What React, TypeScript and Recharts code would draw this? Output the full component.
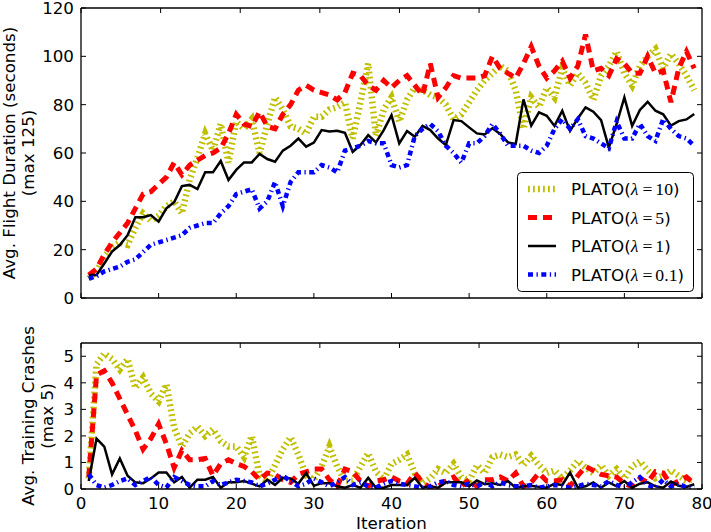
import React from "react";
import { Line, LineChart, XAxis, YAxis } from "recharts";

// ---- data ----------------------------------------------------------------
const ITERATIONS = [
  1, 2, 3, 4, 5, 6, 7, 8, 9, 10, 11, 12, 13, 14, 15, 16, 17, 18, 19, 20,
  21, 22, 23, 24, 25, 26, 27, 28, 29, 30, 31, 32, 33, 34, 35, 36, 37, 38, 39, 40,
  41, 42, 43, 44, 45, 46, 47, 48, 49, 50, 51, 52, 53, 54, 55, 56, 57, 58, 59, 60,
  61, 62, 63, 64, 65, 66, 67, 68, 69, 70, 71, 72, 73, 74, 75, 76, 77, 78, 79,
];

// avg. flight duration (seconds)
const FLIGHT_L10 = [
  8, 11, 17, 21, 23, 22, 29, 35, 32, 34, 38, 40, 35, 49, 58, 68, 61, 72, 56, 73,
  70, 74, 60, 72, 83, 78, 71, 70, 68, 75, 75, 78, 79, 81, 66, 81, 97, 67, 78, 83,
  73, 82, 87, 86, 84, 83, 80, 74, 76, 81, 86, 90, 93, 96, 94, 86, 70, 83, 79, 87,
  83, 95, 88, 93, 89, 82, 92, 96, 102, 93, 88, 96, 100, 103, 95, 101, 97, 92, 86,
];
const FLIGHT_L5 = [
  9.5, 12, 18, 23, 27, 31, 37, 43, 44, 47, 50, 56, 51, 55, 57, 59, 60, 62, 68, 76,
  72, 71, 77, 71, 70, 76, 80, 86, 88, 86, 85, 84, 82, 85, 93, 92, 88, 86, 90, 87,
  90, 92, 88, 84, 97, 83, 87, 92, 91, 91, 91, 92, 100, 95, 93, 91, 97, 104, 96, 91,
  94, 98, 91, 96, 109, 94, 95, 92, 99, 97, 93, 93, 100, 93, 94, 81, 95, 102, 95,
];
const FLIGHT_L1 = [
  9.5, 9.5, 14.3, 19.2, 21.9, 26, 33.4, 33.4, 34.3, 31.6, 37.1, 39.6, 46.3, 46.8,
  45.1, 52, 52, 56.7, 48.8, 53, 56.1, 56.1, 59.6, 57.5, 56.4, 61, 63, 66, 62.6,
  64.3, 69.5, 68.9, 69.2, 68.4, 60.5, 63.3, 67.4, 64.4, 69.5, 75.7, 64, 69.1, 66.7,
  71.2, 69.5, 66, 63.3, 73.6, 73.2, 70.6, 68.1, 67.7, 70.2, 67.9, 64.4, 63.7, 82.2,
  71.3, 76.8, 75.4, 71.2, 77.5, 69.1, 74.3, 78.9, 77.1, 73.6, 62.2, 72, 83, 71.2,
  77.8, 81.2, 77.5, 76, 71.3, 73.2, 73.9, 76.1,
];
const FLIGHT_L01 = [
  8, 9, 11, 12, 13, 15, 16, 19, 22, 23, 24, 25, 26, 29, 30, 31, 31, 35, 38, 43,
  44, 45, 37, 40, 48, 38, 48, 52, 52, 52, 55, 54, 52, 61, 62, 63, 65, 64, 64, 55,
  54, 55, 67, 70, 72, 69, 63, 60, 56, 64, 64, 67, 72, 68, 63, 63, 63, 61, 60, 63,
  70, 74, 70, 74, 67, 66, 64, 62, 73, 66, 66, 72, 67, 65, 74, 70, 67, 66, 63,
];

// avg. training crashes
const CRASH_L10 = [
  0.4, 4.7, 5.1, 4.9, 4.5, 4.9, 3.8, 4.2, 3.6, 3.3, 3.95, 2.3, 1.6, 2.1, 2.35, 2.0,
  2.25, 1.8, 1.6, 1.6, 1.2, 2.0, 0.5, 0.3, 0.9, 1.5, 1.95, 1.3, 0.5, 0.35, 0.85,
  1.6, 0.85, 0.3, 0.3, 0.85, 1.35, 0.65, 0.35, 0.95, 1.1, 1.3, 0.6, 0.2, 0.4, 0.75,
  0.6, 0.95, 0.45, 0.3, 0.9, 0.6, 1.2, 1.3, 1.2, 1.3, 0.9, 1.25, 0.9, 0.6, 0.7, 0.4,
  0.7, 1.05, 0.8, 0.6, 0.9, 0.5, 0.75, 0.4, 0.85, 1.05, 0.7, 0.4, 0.5, 0.7, 0.5,
  0.3, 0.4,
];
const CRASH_L5 = [
  0.45, 4.3, 4.45, 4.0, 3.4, 2.8, 2.2, 1.5, 1.9, 2.45, 1.7, 0.8, 1.45, 1.1, 1.1,
  1.15, 0.5, 0.95, 1.1, 0.95, 0.85, 0.65, 0.35, 0.6, 0.55, 0.35, 0.25, 0.55, 0.65,
  0.75, 0.75, 0.35, 0.1, 0.75, 0.65, 0.3, 0.1, 0.3, 0.35, 0.45, 0.3, 0.2, 0.6, 0.25,
  0.05, 0.1, 0.3, 0.45, 0.1, 0.35, 0.1, 0.35, 0.35, 0.45, 0.3, 0.6, 0.1, 0.25, 0.6,
  0.3, 0.3, 0.35, 0.1, 0.5, 0.85, 0.7, 0.55, 0.5, 0.45, 0.2, 0.1, 0.4, 0.25, 0.65,
  0.6, 0.15, 0.3, 0.45, 0.2,
];
const CRASH_L1 = [
  0.3, 1.9, 1.6, 0.55, 1.15, 0.5, 0.25, 0.22, 0.4, 0.62, 0.62, 0.25, 0.45, 0.05,
  0.35, 0.35, 0.45, 0.05, 0.25, 0.25, 0.3, 0.2, 0.1, 0.35, 0.15, 0.42, 0.4, 0.2,
  0.6, 0.12, 0.22, 0.22, 0.1, 0.05, 0.15, 0.05, 0.42, 0.05, 0.05, 0.15, 0.15, 0.15,
  0.42, 0.05, 0.1, 0.05, 0.25, 0.25, 0.25, 0.1, 0.32, 0.18, 0.22, 0.15, 0.3, 0.05,
  0.1, 0.12, 0.08, 0.05, 0.2, 0.15, 0.62, 0.05, 0.1, 0.25, 0.05, 0.25, 0.1, 0.3,
  0.05, 0.2, 0.25, 0.1, 0.05, 0.28, 0.12, 0.08, 0.18,
];
const CRASH_L01 = [
  0.55, 0.15, 0.05, 0.15, 0.3, 0.4, 0.15, 0.3, 0.45, 0.15, 0.05, 0.45, 0.3, 0.15,
  0.1, 0.1, 0.3, 0.15, 0.25, 0.35, 0.3, 0.25, 0.1, 0.2, 0.35, 0.5, 0.3, 0.1, 0.2,
  0.4, 0.25, 0.1, 0.25, 0.45, 0.15, 0.25, 0.1, 0.05, 0.2, 0.3, 0.2, 0.15, 0.1, 0.05,
  0.1, 0.25, 0.3, 0.15, 0.1, 0.2, 0.1, 0.25, 0.1, 0.25, 0.15, 0.1, 0.1, 0.15, 0.05,
  0.1, 0.15, 0.1, 0.05, 0.1, 0.2, 0.15, 0.1, 0.3, 0.15, 0.05, 0.25, 0.45, 0.15,
  0.05, 0.35, 0.1, 0.2, 0.05, 0.1,
];

const X_TICKS = [0, 10, 20, 30, 40, 50, 60, 70, 80];
const FLIGHT_TICKS = [0, 20, 40, 60, 80, 100, 120];
const CRASH_TICKS = [0, 1, 2, 3, 4, 5];
const LEGEND_VALUES = ["10", "5", "1", "0.1"];

const flightRows = ITERATIONS.map((it, i) => ({
  it,
  l10: FLIGHT_L10[i],
  l5: FLIGHT_L5[i],
  l1: FLIGHT_L1[i],
  l01: FLIGHT_L01[i],
}));
const crashRows = ITERATIONS.map((it, i) => ({
  it,
  l10: CRASH_L10[i],
  l5: CRASH_L5[i],
  l1: CRASH_L1[i],
  l01: CRASH_L01[i],
}));

// ---- styles --------------------------------------------------------------
const FONT = "DejaVu Sans, Bitstream Vera Sans, sans-serif";
const MATH = "Liberation Serif, DejaVu Serif, serif";
const FS = 16.7;
const SERIES = [
  { key: "l10", stroke: "#bfbf00", width: 6.5, dash: "1.8 3.2" },
  { key: "l5", stroke: "#ff0000", width: 5, dash: "9 6" },
  { key: "l1", stroke: "#000000", width: 2.5, dash: undefined },
  { key: "l01", stroke: "#0000ff", width: 4.5, dash: "5 3.5 1.3 3.5" },
];
const tickStyle = { fill: "#000", fontSize: FS, fontFamily: FONT };
const axisLine = { stroke: "#000", strokeWidth: 1.3 };
const tickLine = { stroke: "#000", strokeWidth: 1 };
const blank = () => "";

// shared props for the four frame axes of a panel (ticks point inward)
const frame = {
  type: "number" as const,
  allowDataOverflow: true,
  interval: 0 as const,
  tickSize: -5,
  axisLine,
  tickLine,
};

function renderSeries() {
  return SERIES.map((s) => (
    <Line
      key={s.key}
      xAxisId="b"
      yAxisId="l"
      dataKey={s.key}
      type="linear"
      stroke={s.stroke}
      strokeWidth={s.width}
      strokeDasharray={s.dash}
      strokeLinecap="butt"
      dot={false}
      activeDot={false}
      isAnimationActive={false}
    />
  ));
}

function yLabel(lines: string[], shift: number) {
  return (props: any) => {
    const vb = props.viewBox || {};
    const cy = vb.y + vb.height / 2;
    return (
      <g fontFamily={FONT} fontSize={FS} fill="#000">
        {lines.map((t, i) => {
          const x = shift + i * 19;
          return (
            <text
              key={t}
              x={x}
              y={cy}
              textAnchor="middle"
              transform={`rotate(-90 ${x} ${cy})`}
            >
              {t}
            </text>
          );
        })}
      </g>
    );
  };
}

export default function App() {
  return (
    <div style={{ position: "absolute", left: 0, top: 0, width: 711, height: 532, background: "#fff" }}>
      {/* top panel: flight duration (plot box 81..702 x 8..298) */}
      <div style={{ position: "absolute", left: 0, top: 0 }}>
        <LineChart width={711} height={320} data={flightRows} margin={{ top: 4, right: 0, bottom: 20, left: 0 }}>
          <XAxis {...frame} xAxisId="b" dataKey="it" domain={[0, 80]} ticks={X_TICKS} height={2} tickFormatter={blank} />
          <XAxis {...frame} xAxisId="t" orientation="top" domain={[0, 80]} ticks={X_TICKS} height={4} tickFormatter={blank} />
          <YAxis
            {...frame}
            yAxisId="l"
            domain={[0, 120]}
            ticks={FLIGHT_TICKS}
            width={81}
            tickMargin={12}
            tick={tickStyle}
            label={{ content: yLabel(["Avg. Flight Duration (seconds)", "(max 125)"], 15) }}
          />
          <YAxis {...frame} yAxisId="r" orientation="right" domain={[0, 120]} ticks={FLIGHT_TICKS} width={9} tickFormatter={blank} />
          {renderSeries()}
        </LineChart>
      </div>

      {/* legend */}
      <svg width={711} height={532} style={{ position: "absolute", left: 0, top: 0, pointerEvents: "none" }}>
        <rect x={517.5} y={172.5} width={176} height={119} rx={4} fill="#fff" stroke="#000" strokeWidth={1} />
        {SERIES.map((s, i) => {
          const cy = 189 + i * 28.5;
          return (
            <g key={s.key}>
              <line x1={528} x2={556} y1={cy} y2={cy} stroke={s.stroke} strokeWidth={s.width} strokeDasharray={s.dash} />
              <text x={571} y={cy + 6} fontFamily={FONT} fontSize={FS} fill="#000">
                PLATO(
                <tspan fontFamily={MATH} fontStyle="italic" fontSize={FS + 1}>
                  λ
                </tspan>
                <tspan fontFamily={MATH} fontSize={FS + 1} dx={4}>
                  =
                </tspan>
                <tspan fontFamily={MATH} fontSize={FS + 1} dx={3}>
                  {LEGEND_VALUES[i]}
                </tspan>
                )
              </text>
            </g>
          );
        })}
      </svg>

      {/* bottom panel: training crashes (plot box 81..702 x 343..489) */}
      <div style={{ position: "absolute", left: 0, top: 300 }}>
        <LineChart width={711} height={232} data={crashRows} margin={{ top: 35, right: 0, bottom: 0, left: 0 }}>
          <XAxis
            {...frame}
            xAxisId="b"
            dataKey="it"
            domain={[0, 80]}
            ticks={X_TICKS}
            height={43}
            tickMargin={13}
            tick={tickStyle}
            label={{
              content: (props: any) => {
                const vb = props.viewBox || {};
                return (
                  <text x={vb.x + vb.width / 2} y={229} textAnchor="middle" fontFamily={FONT} fontSize={FS} fill="#000">
                    Iteration
                  </text>
                );
              },
            }}
          />
          <XAxis {...frame} xAxisId="t" orientation="top" domain={[0, 80]} ticks={X_TICKS} height={8} tickFormatter={blank} />
          <YAxis
            {...frame}
            yAxisId="l"
            domain={[0, 5.5]}
            ticks={CRASH_TICKS}
            width={81}
            tickMargin={12}
            tick={tickStyle}
            label={{ content: yLabel(["Avg. Training Crashes", "(max 5)"], 34) }}
          />
          <YAxis {...frame} yAxisId="r" orientation="right" domain={[0, 5.5]} ticks={CRASH_TICKS} width={9} tickFormatter={blank} />
          {renderSeries()}
        </LineChart>
      </div>
    </div>
  );
}
